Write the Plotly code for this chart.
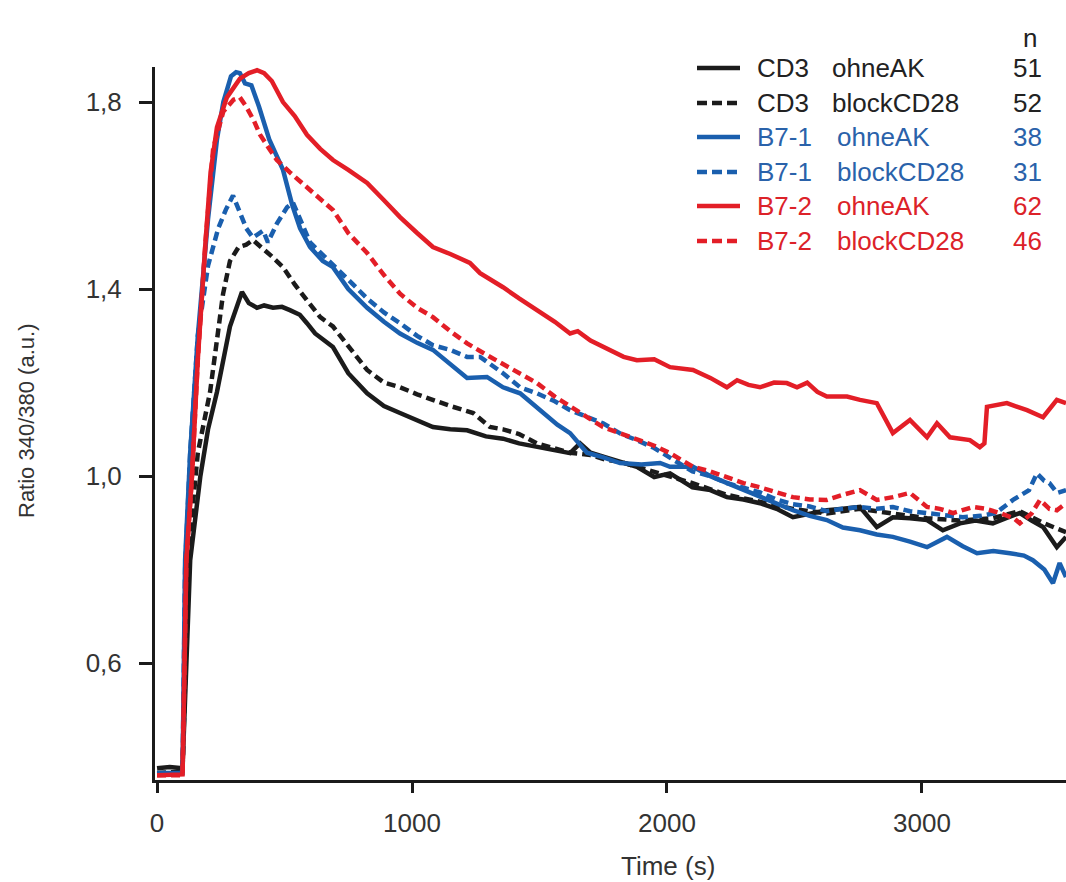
import plotly.graph_objects as go

# ---------------- data ----------------
T_CD3_OHNE = [0, 50, 100, 115, 130, 170, 200, 235, 286, 333, 360, 392, 420, 455, 490, 521, 560, 588, 620,
              690, 750, 824, 890, 953, 1020, 1082, 1150, 1216, 1290, 1357, 1420, 1490, 1550, 1620, 1659,
              1700, 1760, 1820, 1882, 1950, 2012, 2100, 2170, 2235, 2300, 2365, 2430, 2494, 2560, 2627,
              2690, 2757, 2823, 2886, 2953, 3020, 3082, 3149, 3210, 3278, 3330, 3384, 3430, 3475, 3529, 3565]
V_CD3_OHNE = [0.375, 0.378, 0.375, 0.6, 0.82, 1.0, 1.1, 1.18, 1.32, 1.394, 1.37, 1.36, 1.365, 1.36, 1.362,
              1.355, 1.345, 1.327, 1.305, 1.276, 1.22, 1.177, 1.15, 1.135, 1.12, 1.105, 1.1, 1.098, 1.085,
              1.08, 1.07, 1.062, 1.055, 1.049, 1.07, 1.05, 1.04, 1.03, 1.02, 0.998, 1.006, 0.976, 0.97,
              0.955, 0.95, 0.942, 0.93, 0.912, 0.92, 0.927, 0.93, 0.934, 0.891, 0.912, 0.91, 0.906, 0.884,
              0.899, 0.905, 0.899, 0.91, 0.921, 0.905, 0.891, 0.848, 0.87]

T_CD3_BLOCK = [0, 100, 112, 125, 160, 208, 259, 286, 320, 350, 376, 410, 450, 494, 540, 588, 640, 690, 750,
               824, 890, 953, 1020, 1082, 1150, 1240, 1306, 1357, 1420, 1490, 1550, 1620, 1700, 1760, 1820,
               1882, 1950, 2012, 2100, 2235, 2365, 2494, 2627, 2757, 2886, 3020, 3149, 3278, 3384, 3475, 3565]
V_CD3_BLOCK = [0.365, 0.368, 0.6, 0.85, 1.05, 1.18, 1.39, 1.46, 1.49, 1.495, 1.505, 1.49, 1.47, 1.447,
               1.41, 1.376, 1.34, 1.32, 1.28, 1.227, 1.2, 1.19, 1.175, 1.163, 1.15, 1.135, 1.105, 1.1, 1.09,
               1.07, 1.06, 1.05, 1.045, 1.035, 1.03, 1.02, 1.01, 1.0, 0.985, 0.96, 0.945, 0.93, 0.92, 0.93,
               0.92, 0.91, 0.905, 0.91, 0.925, 0.9, 0.88]

T_B71_OHNE = [0, 100, 110, 130, 160, 200, 235, 260, 290, 310, 325, 345, 370, 400, 440, 494, 530, 561, 600,
              650, 690, 750, 824, 890, 953, 1020, 1082, 1150, 1216, 1294, 1357, 1424, 1514, 1570, 1620, 1686,
              1750, 1816, 1900, 1973, 2012, 2102, 2170, 2235, 2300, 2365, 2430, 2494, 2560, 2627, 2690, 2757,
              2823, 2886, 2953, 3020, 3098, 3160, 3216, 3280, 3345, 3400, 3435, 3480, 3514, 3540, 3565]
V_B71_OHNE = [0.365, 0.365, 0.82, 1.05, 1.3, 1.55, 1.72, 1.8, 1.855, 1.864, 1.862, 1.84, 1.836, 1.79, 1.72,
              1.655, 1.58, 1.53, 1.49, 1.46, 1.447, 1.4, 1.36, 1.33, 1.305, 1.285, 1.27, 1.24, 1.21, 1.212,
              1.19, 1.177, 1.135, 1.11, 1.092, 1.05, 1.04, 1.028, 1.025, 1.028, 1.02, 1.02, 1.0, 0.985, 0.97,
              0.955, 0.94, 0.927, 0.915, 0.906, 0.89, 0.884, 0.875, 0.87, 0.86, 0.848, 0.87, 0.85, 0.835,
              0.84, 0.835, 0.83, 0.82, 0.8, 0.771, 0.814, 0.784]

T_B71_BLOCK = [0, 100, 110, 130, 160, 200, 240, 270, 298, 320, 350, 376, 400, 416, 435, 470, 510, 533, 600,
               690, 750, 824, 890, 953, 1020, 1082, 1150, 1216, 1267, 1357, 1424, 1490, 1560, 1620, 1690,
               1749, 1820, 1882, 1950, 2012, 2100, 2170, 2235, 2300, 2365, 2430, 2494, 2560, 2627, 2690,
               2757, 2823, 2886, 2953, 3020, 3090, 3160, 3230, 3290, 3357, 3420, 3451, 3480, 3500, 3530, 3565]
V_B71_BLOCK = [0.362, 0.365, 0.8, 1.05, 1.3, 1.45, 1.53, 1.57, 1.6, 1.57, 1.53, 1.51, 1.52, 1.525, 1.5,
               1.54, 1.575, 1.585, 1.5, 1.45, 1.42, 1.38, 1.35, 1.327, 1.3, 1.28, 1.27, 1.255, 1.255, 1.22,
               1.19, 1.177, 1.16, 1.141, 1.125, 1.113, 1.09, 1.077, 1.06, 1.04, 1.01, 1.0, 0.985, 0.975,
               0.965, 0.95, 0.94, 0.935, 0.925, 0.93, 0.934, 0.93, 0.934, 0.925, 0.921, 0.915, 0.912, 0.915,
               0.921, 0.949, 0.97, 1.006, 0.99, 0.985, 0.964, 0.97]

T_B72_OHNE = [0, 100, 108, 115, 137, 160, 190, 210, 235, 274, 325, 360, 392, 420, 450, 494, 540, 588, 640,
              690, 750, 824, 890, 953, 1020, 1082, 1150, 1227, 1267, 1357, 1420, 1490, 1560, 1620, 1650, 1700,
              1776, 1830, 1882, 1950, 2012, 2102, 2170, 2235, 2275, 2320, 2365, 2420, 2470, 2510, 2550, 2590,
              2627, 2706, 2757, 2823, 2886, 2953, 3020, 3059, 3110, 3188, 3227, 3245, 3255, 3333, 3412, 3475,
              3529, 3565]
V_B72_OHNE = [0.36, 0.362, 0.6, 0.82, 1.0, 1.25, 1.5, 1.65, 1.746, 1.81, 1.85, 1.862, 1.868, 1.862, 1.845,
              1.8, 1.77, 1.73, 1.7, 1.676, 1.655, 1.627, 1.59, 1.554, 1.52, 1.49, 1.475, 1.456, 1.434, 1.404,
              1.38, 1.355, 1.33, 1.305, 1.31, 1.29, 1.27, 1.255, 1.248, 1.25, 1.233, 1.227, 1.21, 1.19,
              1.205, 1.195, 1.19, 1.2, 1.199, 1.19, 1.2, 1.18, 1.17, 1.17, 1.163, 1.156, 1.092, 1.12, 1.083,
              1.113, 1.083, 1.077, 1.062, 1.07, 1.148, 1.156, 1.141, 1.126, 1.163, 1.156]

T_B72_BLOCK = [0, 100, 108, 115, 137, 160, 190, 220, 260, 300, 325, 350, 380, 404, 440, 470, 520, 561, 620,
               690, 750, 824, 890, 953, 1020, 1082, 1150, 1216, 1290, 1357, 1420, 1490, 1560, 1620, 1690,
               1749, 1820, 1882, 1950, 2012, 2102, 2170, 2235, 2300, 2365, 2430, 2494, 2560, 2627, 2690,
               2757, 2823, 2886, 2953, 3020, 3070, 3122, 3200, 3250, 3306, 3360, 3384, 3430, 3463, 3500,
               3529, 3565]
V_B72_BLOCK = [0.36, 0.36, 0.6, 0.82, 1.0, 1.25, 1.5, 1.7, 1.78, 1.805, 1.81, 1.79, 1.76, 1.73, 1.7, 1.676,
               1.65, 1.63, 1.6, 1.569, 1.52, 1.477, 1.43, 1.39, 1.36, 1.34, 1.31, 1.284, 1.26, 1.24, 1.22,
               1.199, 1.17, 1.148, 1.125, 1.105, 1.09, 1.077, 1.065, 1.049, 1.02, 1.01, 0.998, 0.985, 0.976,
               0.965, 0.955, 0.95, 0.949, 0.96, 0.97, 0.949, 0.955, 0.964, 0.934, 0.93, 0.921, 0.934, 0.93,
               0.921, 0.91, 0.899, 0.92, 0.949, 0.93, 0.927, 0.942]

GROUPS = ["CD3", "CD3", "B7-1", "B7-1", "B7-2", "B7-2"]
CONDITIONS = ["ohneAK", "blockCD28", "ohneAK", "blockCD28", "ohneAK", "blockCD28"]
N_CELLS = ["51", "52", "38", "31", "62", "46"]
X_TICKS = [0, 1000, 2000, 3000]
Y_TICKS = [0.6, 1.0, 1.4, 1.8]
Y_TICK_TEXT = ["0,6", "1,0", "1,4", "1,8"]

# ---------------- styles ----------------
BLACK = "#1b1b1b"
BLUE = "#1a5fae"
RED = "#e31e27"
TEXT_BLACK = "#222222"
TEXT_BLUE = "#2a62aa"
TEXT_RED = "#dc2229"
COLORS = [BLACK, BLACK, BLUE, BLUE, RED, RED]
TEXT_COLORS = [TEXT_BLACK, TEXT_BLACK, TEXT_BLUE, TEXT_BLUE, TEXT_RED, TEXT_RED]
DASHES = ["solid", "9px,5px", "solid", "9px,5px", "solid", "9px,5px"]
SERIES = [(T_CD3_OHNE, V_CD3_OHNE), (T_CD3_BLOCK, V_CD3_BLOCK), (T_B71_OHNE, V_B71_OHNE),
          (T_B71_BLOCK, V_B71_BLOCK), (T_B72_OHNE, V_B72_OHNE), (T_B72_BLOCK, V_B72_BLOCK)]

FONT = "Liberation Sans, Arial, sans-serif"
FS = 26
W, H = 1066, 882
L, R, T, B = 155, 0, 67, 102
PW, PH = W - L - R, H - T - B


def px(xp):
    return (xp - L) / PW


def py(yp):
    return (H - B - yp) / PH


fig = go.Figure()
for i, (t, v) in enumerate(SERIES):
    fig.add_trace(go.Scatter(x=t, y=v, mode="lines",
                             name=f"{GROUPS[i]} {CONDITIONS[i]}",
                             line=dict(color=COLORS[i], width=4.5, dash=DASHES[i])))

shapes = []
annotations = []
row_y = [68, 103, 137, 172, 206, 241]
for i in range(6):
    y = py(row_y[i])
    shapes.append(dict(type="line", xref="paper", yref="paper", x0=px(697), x1=px(740), y0=y, y1=y,
                       line=dict(color=COLORS[i], width=4.5, dash=DASHES[i].replace("9px,5px", "10px,5px"))))
    annotations.append(dict(xref="paper", yref="paper", x=px(755), y=y, xanchor="left", yanchor="middle",
                            text=GROUPS[i], showarrow=False,
                            font=dict(family=FONT, size=FS, color=TEXT_COLORS[i])))
    cx = 830 if GROUPS[i] == "CD3" else 835
    annotations.append(dict(xref="paper", yref="paper", x=px(cx), y=y, xanchor="left", yanchor="middle",
                            text=CONDITIONS[i], showarrow=False,
                            font=dict(family=FONT, size=FS, color=TEXT_COLORS[i])))
    annotations.append(dict(xref="paper", yref="paper", x=px(1044), y=y, xanchor="right", yanchor="middle",
                            text=N_CELLS[i], showarrow=False,
                            font=dict(family=FONT, size=FS, color=TEXT_COLORS[i])))
annotations.append(dict(xref="paper", yref="paper", x=px(1030), y=py(38), xanchor="center", yanchor="middle",
                        text="n", showarrow=False, font=dict(family=FONT, size=FS, color=TEXT_BLACK)))
annotations.append(dict(xref="paper", yref="paper", x=px(668), y=py(866), xanchor="center", yanchor="middle",
                        text="Time (s)", showarrow=False, font=dict(family=FONT, size=FS, color="#333333")))
annotations.append(dict(xref="paper", yref="paper", x=px(26), y=py(421), xanchor="center", yanchor="middle",
                        text="Ratio 340/380 (a.u.)", textangle=-90, showarrow=False,
                        font=dict(family=FONT, size=22, color="#333333")))

fig.update_layout(
    width=W, height=H,
    margin=dict(l=L, r=R, t=T, b=B, pad=0),
    paper_bgcolor="white", plot_bgcolor="white",
    showlegend=False,
    font=dict(family=FONT, size=FS, color="#333333"),
    shapes=shapes, annotations=annotations,
    xaxis=dict(range=[-8, 3565], tickvals=X_TICKS, ticktext=[str(x) for x in X_TICKS],
               showline=True, linewidth=3, linecolor=BLACK, mirror=False,
               ticks="outside", ticklen=10, tickwidth=3, tickcolor=BLACK, ticklabelstandoff=8,
               showgrid=False, zeroline=False, tickfont=dict(family=FONT, size=FS, color="#333333")),
    yaxis=dict(range=[0.35, 1.875], tickvals=Y_TICKS, ticktext=Y_TICK_TEXT,
               showline=True, linewidth=3, linecolor=BLACK,
               ticks="outside", ticklen=13, tickwidth=3, tickcolor=BLACK, ticklabelstandoff=12,
               showgrid=False, zeroline=False, tickfont=dict(family=FONT, size=FS, color="#333333")),
)

fig.write_html("out.html")
